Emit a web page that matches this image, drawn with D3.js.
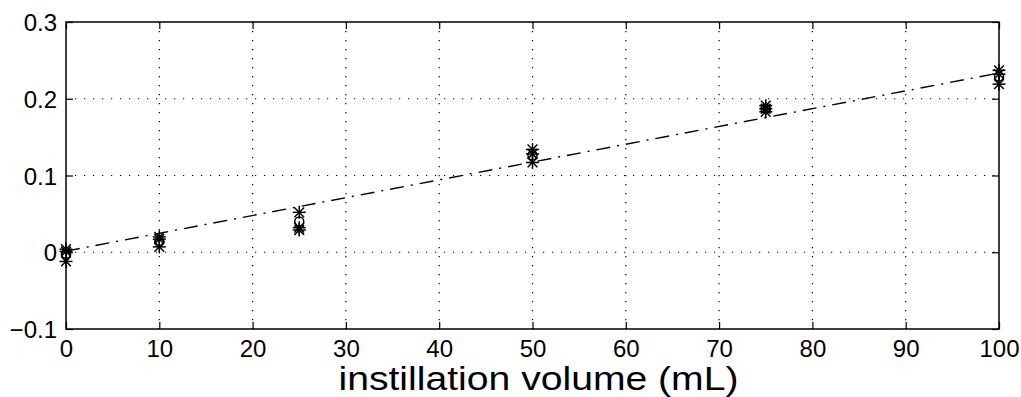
<!DOCTYPE html>
<html>
<head>
<meta charset="utf-8">
<script src="https://cdn.jsdelivr.net/npm/d3@7"></script>
<style>
  body { margin: 0; background: #fff; }
  svg { display: block; }
  text { font-family: "Liberation Sans", Arial, Helvetica, sans-serif; fill: #000; }
</style>
</head>
<body>
<svg id="chart" width="1021" height="397"></svg>
<script>
// Instillation volumes (mL) and repeated measurements at each volume
const volumes = [0, 10, 25, 50, 75, 100];
const trial1 = [0.004, 0.020, 0.052, 0.134, 0.191, 0.237];
const trial2 = [0.001, 0.017, 0.032, 0.128, 0.187, 0.232];
const trial3 = [-0.012, 0.007, 0.029, 0.117, 0.183, 0.219];
const means  = [-0.002, 0.014, 0.040, 0.126, 0.187, 0.229];

// Linear fit: y = slope * x + intercept
const fitSlope = 0.00232;
const fitIntercept = 0.0015;

const xTicks = [0, 10, 20, 30, 40, 50, 60, 70, 80, 90, 100];
const yTicks = [-0.1, 0, 0.1, 0.2, 0.3];
const xLabel = "instillation volume (mL)";

const svg = d3.select("#chart");
const plotL = 66, plotR = 999, plotT = 22, plotB = 329;

const x = d3.scaleLinear().domain([0, 100]).range([plotL, plotR]);
const y = d3.scaleLinear().domain([-0.1, 0.3]).range([plotB, plotT]);

// Dotted grid
const grid = svg.append("g");
grid.selectAll(".gx").data(xTicks.slice(1, -1)).join("line")
  .attr("x1", d => x(d)).attr("x2", d => x(d))
  .attr("y1", plotT).attr("y2", plotB)
  .attr("stroke", "#000").attr("stroke-width", 1.2)
  .attr("stroke-dasharray", "1.2,7.8");
grid.selectAll(".gy").data(yTicks.slice(1, -1)).join("line")
  .attr("y1", d => y(d)).attr("y2", d => y(d))
  .attr("x1", plotL).attr("x2", plotR)
  .attr("stroke", "#000").attr("stroke-width", 1.2)
  .attr("stroke-dasharray", "1.2,7.8");

// Axes with inward ticks
const fmtY = d => d === 0 ? "0" : (d < 0 ? "\u2212" + Math.abs(d).toFixed(1) : d.toFixed(1));
const axB = svg.append("g").attr("transform", `translate(0,${plotB})`)
  .call(d3.axisBottom(x).tickValues(xTicks).tickSizeInner(-7).tickSizeOuter(0));
const axT = svg.append("g").attr("transform", `translate(0,${plotT})`)
  .call(d3.axisTop(x).tickValues(xTicks).tickSizeInner(-7).tickSizeOuter(0).tickFormat(""));
const axL = svg.append("g").attr("transform", `translate(${plotL},0)`)
  .call(d3.axisLeft(y).tickValues(yTicks).tickSizeInner(-7).tickSizeOuter(0).tickFormat(fmtY));
const axR = svg.append("g").attr("transform", `translate(${plotR},0)`)
  .call(d3.axisRight(y).tickValues(yTicks).tickSizeInner(-7).tickSizeOuter(0).tickFormat(""));
[axB, axT, axL, axR].forEach(a => {
  a.select(".domain").remove();
  a.selectAll("line").attr("stroke", "#000").attr("stroke-width", 1.2);
  a.selectAll("text").attr("font-size", 24).attr("font-family", "Liberation Sans, Arial, sans-serif").attr("fill", "#000");
});
axB.selectAll("text").attr("y", 28).attr("dy", 0);
axL.selectAll("text").attr("x", -9).attr("dy", "0.36em");

// Frame
svg.append("rect").attr("x", plotL).attr("y", plotT)
  .attr("width", plotR - plotL).attr("height", plotB - plotT)
  .attr("fill", "none").attr("stroke", "#000").attr("stroke-width", 1.5);

// Fit line (dash-dot)
svg.append("line")
  .attr("x1", x(0)).attr("y1", y(fitIntercept))
  .attr("x2", x(100)).attr("y2", y(fitSlope * 100 + fitIntercept))
  .attr("stroke", "#000").attr("stroke-width", 1.4)
  .attr("stroke-dasharray", "14,7,2,7");

// Asterisk markers
const pts = [];
[trial1, trial2, trial3].forEach(s => s.forEach((v, i) => pts.push([volumes[i], v])));
const r = 6.5;
const star = svg.append("g").attr("stroke", "#000").attr("stroke-width", 1.5);
pts.forEach(([vx, vy]) => {
  const cx = x(vx), cy = y(vy);
  const g = star.append("g").attr("transform", `translate(${cx},${cy})`);
  g.append("line").attr("x1", -r).attr("x2", r).attr("y1", 0).attr("y2", 0);
  g.append("line").attr("x1", 0).attr("x2", 0).attr("y1", -r).attr("y2", r);
  g.append("line").attr("x1", -r * 0.75).attr("x2", r * 0.75).attr("y1", -r * 0.75).attr("y2", r * 0.75);
  g.append("line").attr("x1", -r * 0.75).attr("x2", r * 0.75).attr("y1", r * 0.75).attr("y2", -r * 0.75);
});

// Mean markers (circles)
svg.append("g").selectAll("circle").data(volumes).join("circle")
  .attr("cx", d => x(d)).attr("cy", (d, i) => y(means[i])).attr("r", 4.5)
  .attr("fill", "none").attr("stroke", "#000").attr("stroke-width", 1.5);

// X axis title
svg.append("text").attr("x", (plotL + plotR) / 2 + 6).attr("y", 390)
  .attr("text-anchor", "middle").attr("font-size", 33)
  .attr("textLength", 400).attr("lengthAdjust", "spacingAndGlyphs")
  .text(xLabel);
</script>
</body>
</html>
